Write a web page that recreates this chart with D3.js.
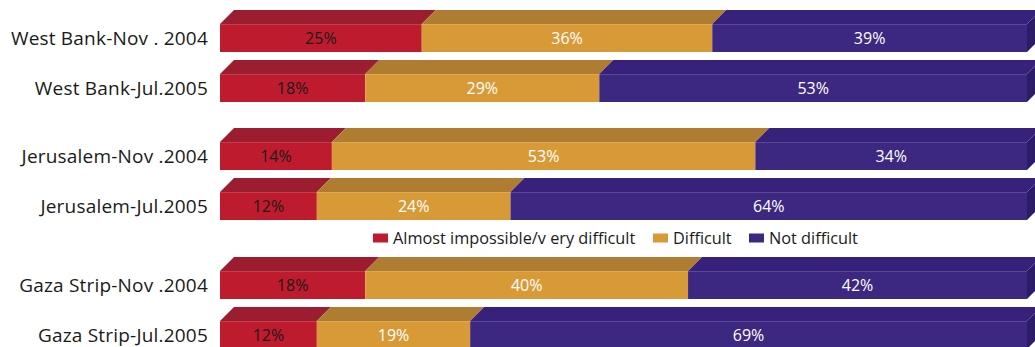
<!DOCTYPE html>
<html>
<head>
<meta charset="utf-8">
<script src="https://cdn.jsdelivr.net/npm/d3@7"></script>
<style>
  html, body { margin: 0; padding: 0; background: #fff; }
  svg { display: block; }
  text { font-family: "Open Sans", "Noto Sans", sans-serif; }
</style>
</head>
<body>
<svg id="chart" width="1035" height="347"></svg>
<script>
// ---- data ----
const categories = [
  "West Bank-Nov . 2004",
  "West Bank-Jul.2005",
  "Jerusalem-Nov .2004",
  "Jerusalem-Jul.2005",
  "Gaza Strip-Nov .2004",
  "Gaza Strip-Jul.2005"
];
const groups = [0, 0, 1, 1, 2, 2];
const seriesNames = ["Almost impossible/v ery difficult", "Difficult", "Not difficult"];
const almostImpossible = [25, 18, 14, 12, 18, 12];
const difficult = [36, 29, 53, 24, 40, 19];
const notDifficult = [39, 53, 34, 64, 42, 69];

// ---- styles ----
const frontColors = ["#BE1C2E", "#D89A37", "#3C2880"];
const topColors = ["#9D1D30", "#AE7D31", "#37217A"];
const sideColors = ["#8a1a2a", "#946a28", "#2C1C68"];
const labelColors = ["#1a1a1a", "#ffffff", "#ffffff"];

const svg = d3.select("#chart");
const left = 220, right = 1027;
const depth = 14;
const barH = 28;
const groupGap = [0, 18, 47];

const y = d3.scaleBand().domain(categories).range([24, 24 + 50 * 6]).paddingInner(0).paddingOuter(0);
const rowY = (c, i) => y(c) + groupGap[groups[i]];

const values = [almostImpossible, difficult, notDifficult];
const rows = categories.map((c, i) => {
  const total = d3.sum(values, arr => arr[i]);
  const x = d3.scaleLinear().domain([0, total]).range([left, right]);
  let acc = 0;
  const segs = values.map((arr, s) => {
    const seg = { s, v: arr[i], x0: acc, x1: acc + arr[i] };
    acc += arr[i];
    return seg;
  });
  return { c, i, segs, x, y0: rowY(c, i) };
});

const g = svg.append("g");
rows.forEach(r => {
  const x = r.x;
  const rg = g.append("g");
  // top faces
  r.segs.forEach(sg => {
    const xa = x(sg.x0), xb = x(sg.x1);
    rg.append("path")
      .attr("d", `M${xa},${r.y0} L${xa + depth},${r.y0 - depth} L${xb + depth},${r.y0 - depth} L${xb},${r.y0} Z`)
      .attr("fill", topColors[sg.s]);
  });
  // right side face (last segment)
  const last = r.segs[r.segs.length - 1];
  const xr = x(last.x1);
  rg.append("path")
    .attr("d", `M${xr},${r.y0} L${xr + depth},${r.y0 - depth} L${xr + depth},${r.y0 - depth + barH} L${xr},${r.y0 + barH} Z`)
    .attr("fill", sideColors[last.s]);
  // front faces
  r.segs.forEach(sg => {
    rg.append("rect")
      .attr("x", x(sg.x0)).attr("y", r.y0)
      .attr("width", x(sg.x1) - x(sg.x0)).attr("height", barH)
      .attr("fill", frontColors[sg.s]);
  });
  // subtle highlight edge
  rg.append("line")
    .attr("x1", x(0)).attr("x2", xr).attr("y1", r.y0 + 0.5).attr("y2", r.y0 + 0.5)
    .attr("stroke", "#ffffff").attr("stroke-opacity", 0.15);
  // value labels
  r.segs.forEach(sg => {
    rg.append("text")
      .attr("x", (x(sg.x0) + x(sg.x1)) / 2)
      .attr("y", r.y0 + barH / 2)
      .attr("dy", "0.36em")
      .attr("text-anchor", "middle")
      .attr("font-size", 16)
      .attr("fill", labelColors[sg.s])
      .text(sg.v + "%");
  });
  // category labels
  rg.append("text")
    .attr("x", 208)
    .attr("y", r.y0 + barH / 2)
    .attr("dy", "0.36em")
    .attr("text-anchor", "end")
    .attr("font-size", 19)
    .attr("letter-spacing", 0.2)
    .attr("fill", "#1a1a1a")
    .text(r.c);
});

// legend
const legendItems = [
  { name: seriesNames[0], x: 373, s: 0 },
  { name: seriesNames[1], x: 653, s: 1 },
  { name: seriesNames[2], x: 749, s: 2 }
];
const lg = svg.append("g");
legendItems.forEach(it => {
  lg.append("rect").attr("x", it.x).attr("y", 233.5).attr("width", 15).attr("height", 9).attr("fill", frontColors[it.s]);
  lg.append("text").attr("x", it.x + 20).attr("y", 238).attr("dy", "0.36em")
    .attr("font-size", 16.3).attr("fill", "#1a1a1a").text(it.name);
});
</script>
</body>
</html>
